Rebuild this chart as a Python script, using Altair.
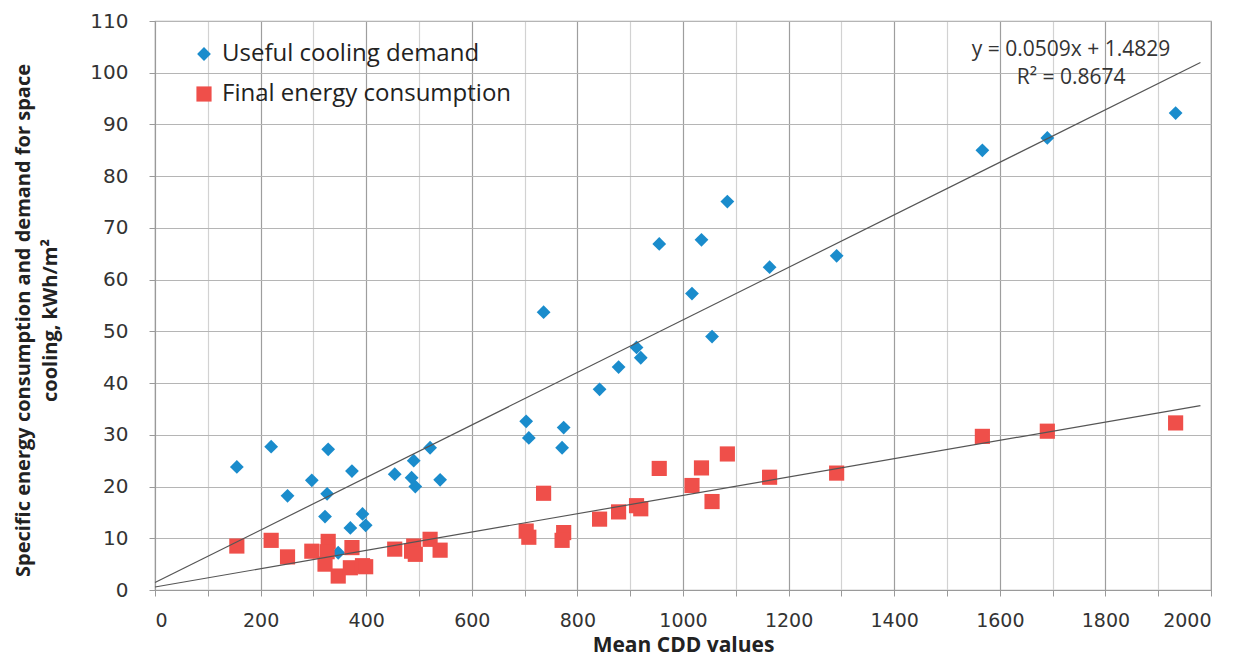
import altair as alt
import pandas as pd

# Mean CDD values (shared x for both series)
cdd = [155, 220, 251, 297, 328, 326, 322, 347, 373, 370, 393, 399, 454, 486, 490, 493, 521, 540,
       703, 708, 736, 774, 771, 842, 878, 912, 920, 955, 1017, 1035, 1055, 1084, 1164, 1291, 1567, 1690, 1933]
# Useful cooling demand, kWh/m2
useful = [23.8, 27.7, 18.2, 21.2, 27.2, 18.6, 14.2, 7.2, 23.0, 12.0, 14.7, 12.5, 22.4, 21.7, 25.0, 20.0, 27.5, 21.3,
          32.6, 29.4, 53.7, 31.4, 27.5, 38.8, 43.1, 46.9, 44.9, 66.9, 57.3, 67.7, 49.0, 75.1, 62.4, 64.6, 85.0, 87.4, 92.2]
# Final energy consumption, kWh/m2
final = [8.5, 9.6, 6.4, 7.5, 9.4, 7.4, 5.0, 2.7, 8.2, 4.3, 4.7, 4.5, 7.9, 7.5, 8.5, 6.9, 9.8, 7.7,
         11.4, 10.2, 18.7, 11.1, 9.6, 13.7, 15.1, 16.3, 15.7, 23.5, 20.2, 23.6, 17.1, 26.3, 21.8, 22.6, 29.7, 30.7, 32.3]

series_names = ["Useful cooling demand", "Final energy consumption"]
series_colors = ["#1a8ccc", "#ef4f4a"]
series_shapes = ["diamond", "square"]

eq_text = ["y = 0.0509x + 1.4829", "R² = 0.8674"]
eq_x = [1735, 1735]
eq_y = [104.3, 99.0]

x_ticks = list(range(0, 2001, 100))
y_ticks = list(range(0, 111, 10))

df = pd.DataFrame({
    "cdd": cdd * 2,
    "value": useful + final,
    "series": [series_names[0]] * len(cdd) + [series_names[1]] * len(cdd),
    "order": [0] * len(cdd) + [1] * len(cdd),
})
eq_df = pd.DataFrame({"text": eq_text, "x": eq_x, "y": eq_y})

x_scale = alt.Scale(domain=[0, 2000], nice=False)
y_scale = alt.Scale(domain=[0, 110], nice=False)

x_axis = alt.Axis(
    title="Mean CDD values", values=x_ticks,
    labelExpr="datum.value % 200 === 0 ? datum.label : ''",
    gridColor=alt.condition("datum.value % 200 === 0", alt.value("#9e9e9e"), alt.value("#d2d2d2")),
    format="d",
)
y_axis = alt.Axis(
    title=["Specific energy consumption and demand for space", "cooling, kWh/m²"],
    values=y_ticks, format="d", titleY=299,
)

base = alt.Chart(df)

points = base.mark_point(filled=True, opacity=1).encode(
    x=alt.X("cdd:Q", scale=x_scale, axis=x_axis),
    y=alt.Y("value:Q", scale=y_scale, axis=y_axis),
    color=alt.Color("series:N", scale=alt.Scale(domain=series_names, range=series_colors),
                    legend=alt.Legend(title=None, orient="none", legendX=37, legendY=21)),
    shape=alt.Shape("series:N", scale=alt.Scale(domain=series_names, range=series_shapes)),
    size=alt.Size("series:N", scale=alt.Scale(domain=series_names, range=[190, 230]), legend=None),
    order=alt.Order("order:Q"),
)

trend = base.transform_regression(
    "cdd", "value", groupby=["series"], extent=[0, 1980]
).mark_line(color="#555555", strokeWidth=1.2).encode(
    x=alt.X("cdd:Q", scale=x_scale),
    y=alt.Y("value:Q", scale=y_scale),
    detail="series:N",
)

eq = alt.Chart(eq_df).mark_text(font="Open Sans", fontSize=21, color="#333333", align="center",
                                baseline="middle").encode(
    x=alt.X("x:Q", scale=x_scale),
    y=alt.Y("y:Q", scale=y_scale),
    text="text:N",
)

chart = alt.layer(points, trend, eq).properties(
    width=1056, height=569,
    padding={"left": 5, "top": 3, "right": 0, "bottom": 0},
).configure_view(
    stroke="#a8a8a8", strokeWidth=1.2
).configure_axis(
    labelFont="DejaVu Sans", labelFontSize=20, labelColor="#333333",
    titleFont="Open Sans", titleFontWeight="bold", titleColor="#222222",
    domainColor="#9a9a9a", tickColor="#9a9a9a", tickSize=6,
    gridColor="#b5b5b5", gridWidth=1.2,
).configure_axisX(
    labelFontSize=19, titleFontSize=21, labelPadding=15, titlePadding=4,
).configure_axisY(
    titleFontSize=20, labelPadding=21, titlePadding=29, titleLineHeight=27,
).configure_legend(
    labelFont="Open Sans", labelFontSize=24, labelColor="#222222", labelLimit=0,
    symbolSize=150, rowPadding=16, symbolStrokeWidth=0, labelOffset=6,
)

chart.save("out.html", embed_options={"renderer": "svg", "actions": False})
